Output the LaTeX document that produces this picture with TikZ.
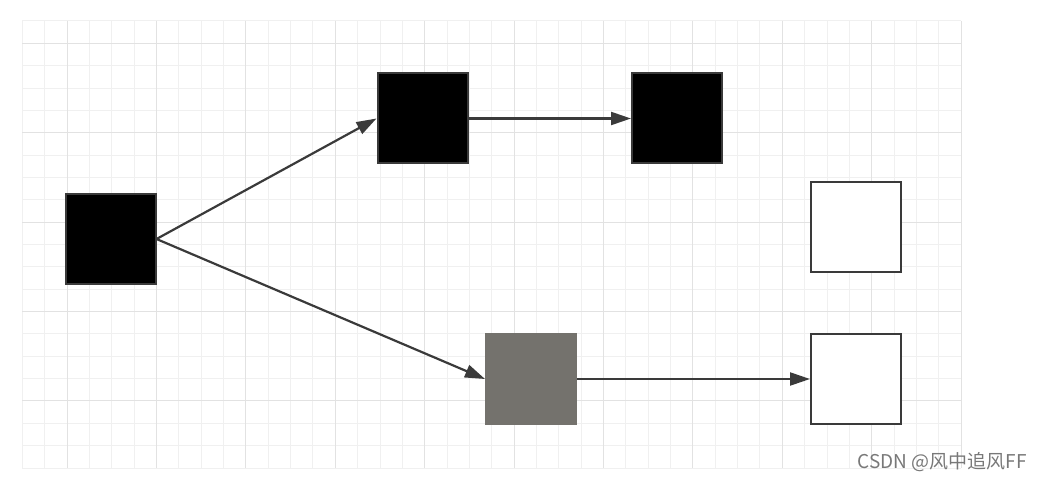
\documentclass[tikz,border=0pt]{standalone}
\usepackage{fontspec}
\newfontfamily\cjkfont{Noto Sans CJK SC}
\usetikzlibrary{arrows.meta, positioning}
\definecolor{gridminor}{RGB}{240, 240, 240}
\definecolor{gridmajor}{RGB}{226, 226, 226}
\definecolor{edgegray}{RGB}{58, 58, 58}
\definecolor{boxgray}{RGB}{116, 114, 109}
\definecolor{markgray}{RGB}{120, 120, 120}

\begin{document}
\begin{tikzpicture}[
				x=1pt, y=-1pt,
				cellbox/.style={rectangle, draw=edgegray, line width=2pt, minimum width=90pt, minimum height=90pt, inner sep=0pt},
				fullbox/.style={cellbox, fill=black},
				halfbox/.style={cellbox, draw=boxgray, fill=boxgray},
				emptybox/.style={cellbox, fill=white},
				linkarrow/.style={draw=edgegray, line width=2.2pt, -{Triangle[length=20pt, width=13pt]}}
				]
				\useasboundingbox (0,0) rectangle (1043,481);
				% Background grid
				\foreach \i in {0,...,42}
					\draw[gridminor, line width=1pt] ({22.4+22.35*\i},21) -- ({22.4+22.35*\i},468);
				\foreach \j in {0,...,20}
					\draw[gridminor, line width=1pt] (22.4,{21+22.35*\j}) -- (961.1,{21+22.35*\j});
				\foreach \i in {2,6,...,42}
					\draw[gridmajor, line width=1pt] ({22.4+22.35*\i},21) -- ({22.4+22.35*\i},468);
				\foreach \j in {1,5,...,17}
					\draw[gridmajor, line width=1pt] (22.4,{21+22.35*\j}) -- (961.1,{21+22.35*\j});
				
				% Cells
				\node[fullbox] (start) at (110.5, 239) {};
				\node[fullbox] (upper1) at (422.5, 118.5) {};
				\node[fullbox] (upper2) at (677, 118.5) {};
				\node[emptybox] (side) at (856, 227) {};
				\node[halfbox] (lower1) at (531, 379) {};
				\node[emptybox] (lower2) at (856, 379) {};
				
				% Links
				\draw[linkarrow] (start.east) -- (upper1.west);
				\draw[linkarrow] (start.east) -- (lower1.west);
				\draw[linkarrow] (upper1.east) -- (upper2.west);
				\draw[linkarrow] (lower1.east) -- (lower2.west);
				
				% Watermark
				\node[font=\cjkfont\fontsize{19pt}{22pt}\selectfont, text=markgray, anchor=east, inner sep=0pt] (mark) at (1027, 462) {CSDN @风中追风FF};
			\end{tikzpicture}
\end{document}
